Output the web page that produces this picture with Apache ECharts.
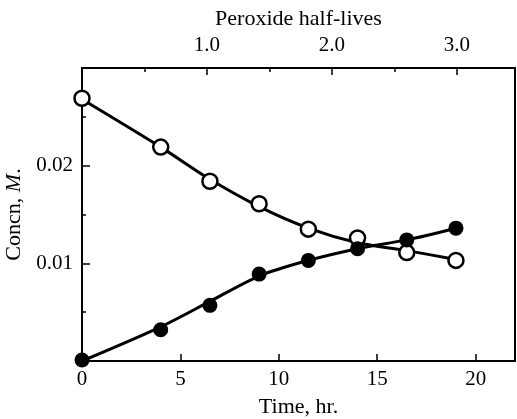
<!DOCTYPE html>
<html>
<head>
<meta charset="utf-8">
<script src="https://cdn.jsdelivr.net/npm/echarts@6/dist/echarts.min.js"></script>
<style>html,body{margin:0;padding:0;background:#fff}#c{width:517px;height:419px}</style>
</head>
<body>
<div id="c"></div>
<script>
// Measured points
var timeHr = [0, 4, 6.5, 9, 11.5, 14, 16.5, 19];
var peroxideConc = [0.0269, 0.0219, 0.0184, 0.0161, 0.0135, 0.0126, 0.0111, 0.0103];
var productConc = [0.0001, 0.0032, 0.0057, 0.0089, 0.0103, 0.0115, 0.0124, 0.0136];
// Drawn smooth curves
var curveTime = [0, 4, 6.5, 9, 11.5, 14, 16.5, 19];
var peroxideCurve = [0.0268, 0.0219, 0.0186, 0.0158, 0.0136, 0.0121, 0.0113, 0.0104];
var productCurve = [0.0, 0.0035, 0.0061, 0.0087, 0.0103, 0.0115, 0.0124, 0.0136];
// Axis tick labels
var timeTicks = [0, 5, 10, 15, 20];
var halfLifeTicks = [1.0, 2.0, 3.0];
var concTicks = [0.01, 0.02];
var halfLifeHr = 6.35;
var timeMax = 22;

function pairs(xs, ys) { return xs.map(function (x, i) { return [x, ys[i]]; }); }

var FONT = '"Liberation Serif", "DejaVu Serif", serif';
var FS = 21;
var NFS = 22;
var chart = echarts.init(document.getElementById('c'), null, {renderer: 'canvas'});
var lineCol = '#000';

chart.setOption({
  animation: false,
  backgroundColor: '#fff',
  grid: {left: 82, right: 2, top: 68, bottom: 58, outerBoundsMode: 'none', containLabel: false},
  xAxis: [{
    type: 'value', position: 'bottom', min: 0, max: timeMax, interval: 5,
    name: 'Time, hr.', nameLocation: 'middle', nameGap: 35,
    nameTextStyle: {fontFamily: FONT, fontSize: NFS, color: '#000'},
    axisLine: {show: true, onZero: false, lineStyle: {color: lineCol, width: 2}},
    axisTick: {show: true, inside: true, length: 7, lineStyle: {color: lineCol, width: 1.5}},
    axisLabel: {
      fontFamily: FONT, fontSize: FS, color: '#000', margin: 8, showMaxLabel: false,
      formatter: function (v) { return timeTicks.indexOf(v) >= 0 ? String(v) : ''; }
    },
    splitLine: {show: false}
  }, {
    type: 'value', position: 'top', min: 0, max: timeMax / halfLifeHr, interval: 1,
    name: 'Peroxide half-lives', nameLocation: 'middle', nameGap: 37,
    nameTextStyle: {fontFamily: FONT, fontSize: NFS, color: '#000'},
    axisLine: {show: true, onZero: false, lineStyle: {color: lineCol, width: 2}},
    axisTick: {show: true, inside: true, length: 7, lineStyle: {color: lineCol, width: 1.5}},
    minorTick: {show: true, splitNumber: 2, length: 4, lineStyle: {color: lineCol, width: 1.5}},
    axisLabel: {
      fontFamily: FONT, fontSize: FS, color: '#000', margin: 12, showMaxLabel: false,
      formatter: function (v) {
        for (var i = 0; i < halfLifeTicks.length; i++) if (Math.abs(v - halfLifeTicks[i]) < 1e-6) return halfLifeTicks[i].toFixed(1);
        return '';
      }
    },
    splitLine: {show: false}
  }],
  yAxis: [{
    type: 'value', position: 'left', min: 0, max: 0.03, interval: 0.01,
    name: 'Concn, {i|M}.', nameLocation: 'middle', nameGap: 52, nameRotate: 90,
    nameTextStyle: {fontFamily: FONT, fontSize: NFS, color: '#000',
      rich: {i: {fontFamily: FONT, fontSize: NFS, fontStyle: 'italic', color: '#000'}}},
    axisLine: {show: true, onZero: false, lineStyle: {color: lineCol, width: 2}},
    axisTick: {show: true, inside: true, length: 8, lineStyle: {color: lineCol, width: 1.5}},
    minorTick: {show: true, splitNumber: 2, length: 4, lineStyle: {color: lineCol, width: 1.5}},
    axisLabel: {
      fontFamily: FONT, fontSize: FS, color: '#000', margin: 9,
      formatter: function (v) {
        for (var i = 0; i < concTicks.length; i++) if (Math.abs(v - concTicks[i]) < 1e-9) return concTicks[i].toFixed(2);
        return '';
      }
    },
    splitLine: {show: false}
  }, {
    type: 'value', position: 'right', min: 0, max: 0.03, interval: 0.01,
    axisLine: {show: true, onZero: false, lineStyle: {color: lineCol, width: 2}},
    axisTick: {show: false}, axisLabel: {show: false}, splitLine: {show: false}
  }],
  series: [{
    type: 'line', data: pairs(curveTime, peroxideCurve), smooth: 0.3,
    symbol: 'none', lineStyle: {color: lineCol, width: 3}, z: 2
  }, {
    type: 'line', data: pairs(curveTime, productCurve), smooth: 0.3,
    symbol: 'none', lineStyle: {color: lineCol, width: 3}, z: 2
  }, {
    type: 'scatter', data: pairs(timeHr, peroxideConc), symbol: 'circle', symbolSize: 15,
    itemStyle: {color: '#fff', borderColor: lineCol, borderWidth: 2.5, opacity: 1}, z: 3
  }, {
    type: 'scatter', data: pairs(timeHr, productConc), symbol: 'circle', symbolSize: 15,
    itemStyle: {color: lineCol, opacity: 1}, z: 3
  }]
});
</script>
</body>
</html>
